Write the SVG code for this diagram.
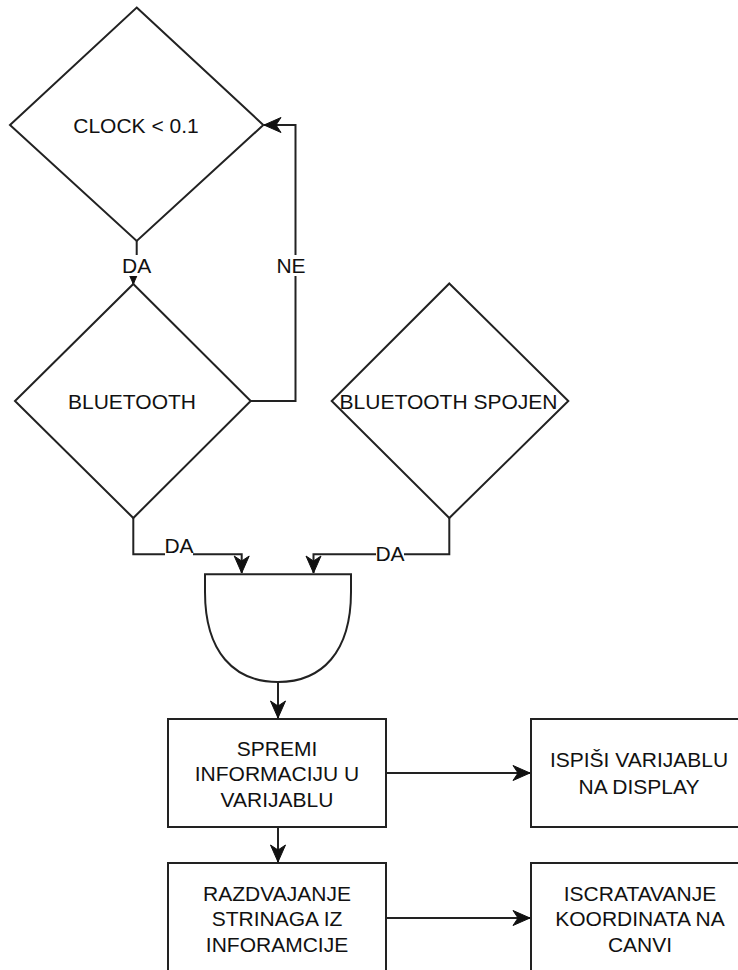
<svg xmlns="http://www.w3.org/2000/svg" width="738" height="970" viewBox="0 0 738 970">
<defs>
<style>
.shape{fill:#fff;stroke:#222;stroke-width:2}
.edge{fill:none;stroke:#222;stroke-width:2}
.t{font-family:"Liberation Sans",Arial,sans-serif;font-size:21px;fill:#111;text-anchor:middle}
.lbg{fill:#fff;stroke:none}
</style>
<marker id="arr" markerUnits="userSpaceOnUse" markerWidth="20" markerHeight="18" viewBox="-18 -9 20 18" refX="0" refY="0" orient="auto">
<path d="M0,0 L-17,-7.5 L-12,0 L-17,7.5 Z" fill="#111" stroke="#111" stroke-width="1"/>
</marker>
</defs>
<rect width="738" height="970" fill="#fff"/>

<g id="connectors">
<path class="edge" d="M136.7,241 V262 H133.3 V284" marker-end="url(#arr)"/>
<path class="edge" d="M250.7,401 H295.5 V125 H264" marker-end="url(#arr)"/>
<path class="edge" d="M133.3,518 V554.3 H241.7 V573" marker-end="url(#arr)"/>
<path class="edge" d="M449.3,518 V554.3 H313.5 V573" marker-end="url(#arr)"/>
<path class="edge" d="M278,682 V718" marker-end="url(#arr)"/>
<path class="edge" d="M386,773 H530" marker-end="url(#arr)"/>
<path class="edge" d="M278,827 V862" marker-end="url(#arr)"/>
<path class="edge" d="M386,918 H530" marker-end="url(#arr)"/>
<g id="edge-labels">
<rect class="lbg" x="122" y="255" width="29" height="21"/>
<text class="t" x="136.7" y="272.5">DA</text>
<rect class="lbg" x="276" y="255" width="30" height="21"/>
<text class="t" x="291" y="272.5">NE</text>
<rect class="lbg" x="165" y="537" width="28" height="19"/>
<text class="t" x="179" y="553">DA</text>
<rect class="lbg" x="376" y="545" width="28" height="18"/>
<text class="t" x="390" y="561">DA</text>
</g>
</g>

<g id="clock">
<polygon class="shape" points="136.7,7.5 263.3,125 136.7,241 10,125"/>
<text class="t" x="136" y="132.5">CLOCK &lt; 0.1</text>
</g>

<g id="bluetooth">
<polygon class="shape" points="133.3,284 250.7,401 133.3,518 15,401"/>
<text class="t" x="132" y="408.5">BLUETOOTH</text>
</g>

<g id="bluetooth-spojen">
<polygon class="shape" points="449.3,283.5 568.3,401 449.3,518 331.7,401"/>
<text class="t" x="448.5" y="408.5">BLUETOOTH SPOJEN</text>
</g>

<g id="and-gate">
<path class="shape" d="M205,574.3 H351 V592 C351,652 322,682 278,682 C234,682 205,652 205,592 Z"/>
</g>

<g id="spremi">
<rect class="shape" x="168" y="719" width="218" height="108"/>
<text class="t" x="277" y="755.5">SPREMI</text>
<text class="t" x="277" y="781">INFORMACIJU U</text>
<text class="t" x="277" y="806.5">VARIJABLU</text>
</g>

<g id="ispisi">
<rect class="shape" x="531" y="719" width="218" height="108"/>
<text class="t" x="639" y="767">ISPIŠI VARIJABLU</text>
<text class="t" x="639" y="793.5">NA DISPLAY</text>
</g>

<g id="razdvajanje">
<rect class="shape" x="168" y="863" width="218" height="110"/>
<text class="t" x="277" y="900.5">RAZDVAJANJE</text>
<text class="t" x="277" y="926">STRINAGA IZ</text>
<text class="t" x="277" y="951.5">INFORAMCIJE</text>
</g>

<g id="iscratavanje">
<rect class="shape" x="531" y="863" width="218" height="110"/>
<text class="t" x="640" y="900.5">ISCRATAVANJE</text>
<text class="t" x="640" y="926">KOORDINATA NA</text>
<text class="t" x="640" y="951.5">CANVI</text>
</g>
</svg>
